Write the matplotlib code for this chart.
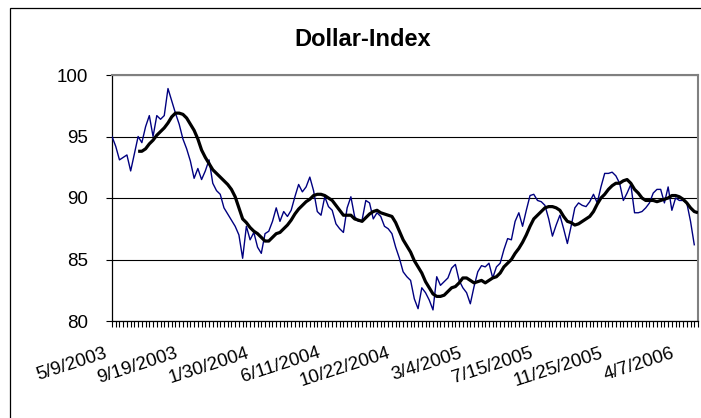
import numpy as np
import matplotlib
matplotlib.use("Agg")
import matplotlib.pyplot as plt
from matplotlib.patches import Rectangle
from matplotlib.transforms import ScaledTranslation

plt.rcParams['font.family'] = ['Liberation Sans', 'DejaVu Sans']

# weekly Dollar-Index values
dollar_index = [
    95.0, 94.2, 93.1, 93.3, 93.5, 92.2, 93.6, 95.0, 94.5, 95.8,
    96.7, 95.0, 96.7, 96.4, 96.7, 98.9, 97.9, 96.9, 96.0, 94.8,
    94.0, 93.0, 91.6, 92.4, 91.5, 92.2, 93.1, 91.2, 90.6, 90.3,
    89.2, 88.7, 88.2, 87.7, 87.0, 85.1, 87.7, 86.6, 87.2, 86.0,
    85.5, 87.1, 87.3, 88.1, 89.2, 88.1, 88.9, 88.5, 89.0, 90.1,
    91.1, 90.5, 90.9, 91.7, 90.6, 88.9, 88.6, 90.1, 89.3, 89.0,
    87.9, 87.5, 87.2, 89.2, 90.1, 88.5, 88.1, 88.2, 89.8, 89.6,
    88.3, 88.8, 88.5, 87.7, 87.5, 87.1, 86.0, 85.1, 84.0, 83.6,
    83.3, 81.8, 81.0, 82.7, 82.3, 81.7, 80.9, 83.6, 82.9, 83.2,
    83.5, 84.3, 84.6, 83.3, 82.7, 82.3, 81.4, 82.8, 84.0, 84.5,
    84.4, 84.7, 83.5, 84.4, 84.7, 85.8, 86.7, 86.6, 88.1, 88.8,
    87.7, 89.0, 90.2, 90.3, 89.8, 89.7, 89.4, 88.3, 86.9, 87.8,
    88.6, 87.5, 86.3, 87.7, 89.2, 89.6, 89.4, 89.3, 89.7, 90.3,
    89.6, 90.9, 92.0, 92.0, 92.1, 91.8, 91.2, 89.8, 90.4, 91.1,
    88.8, 88.8, 88.9, 89.2, 89.6, 90.4, 90.7, 90.7, 89.6, 90.9,
    89.0, 90.0, 89.8, 89.8, 89.6, 88.1, 86.2,
]

# smoothed line, starts at week 7
ma_start = 7
moving_avg = [
    93.8, 93.8, 94.0, 94.4, 94.7, 95.1, 95.4, 95.7, 96.1, 96.6,
    96.9, 96.9, 96.8, 96.5, 96.0, 95.5, 94.8, 93.9, 93.3, 92.8,
    92.3, 92.0, 91.7, 91.4, 91.1, 90.7, 90.1, 89.2, 88.3, 88.0,
    87.6, 87.3, 87.1, 86.8, 86.5, 86.5, 86.8, 87.1, 87.2, 87.5,
    87.8, 88.2, 88.7, 89.1, 89.4, 89.7, 89.9, 90.2, 90.3, 90.3,
    90.2, 90.0, 89.8, 89.4, 89.0, 88.6, 88.6, 88.6, 88.3, 88.2,
    88.1, 88.4, 88.7, 88.9, 89.0, 88.8, 88.7, 88.6, 88.5, 88.0,
    87.3, 86.6, 86.1, 85.6, 84.9, 84.4, 83.9, 83.2, 82.7, 82.2,
    82.0, 82.0, 82.1, 82.4, 82.7, 82.8, 83.1, 83.5, 83.5, 83.3,
    83.1, 83.2, 83.3, 83.1, 83.3, 83.5, 83.6, 83.9, 84.4, 84.7,
    85.0, 85.5, 85.9, 86.4, 87.0, 87.7, 88.3, 88.6, 88.9, 89.2,
    89.3, 89.3, 89.2, 89.0, 88.5, 88.1, 88.0, 87.8, 87.9, 88.1,
    88.3, 88.5, 88.9, 89.5, 90.0, 90.3, 90.7, 91.0, 91.2, 91.2,
    91.4, 91.5, 91.2, 90.7, 90.4, 90.0, 89.8, 89.8, 89.8, 89.7,
    89.8, 89.9, 90.0, 90.2, 90.2, 90.1, 89.9, 89.6, 89.2, 88.9,
    88.8,
]

n_weeks = 158
label_step = 19
date_labels = ['5/9/2003', '9/19/2003', '1/30/2004', '6/11/2004', '10/22/2004',
               '3/4/2005', '7/15/2005', '11/25/2005', '4/7/2006']

fig = plt.figure(figsize=(7.01, 4.18), dpi=100)
ax = fig.add_axes([112 / 701, 1 - 321 / 418, 586 / 701, 246 / 418])

x_blue = np.arange(len(dollar_index))
x_ma = np.arange(ma_start, ma_start + len(moving_avg))
ax.plot(x_blue, dollar_index, color='#000080', lw=1.0, zorder=3)
ax.plot(x_ma, moving_avg, color='black', lw=2.3, zorder=4, solid_capstyle='butt')

ax.set_xlim(0, n_weeks - 1)
ax.set_ylim(80, 100)
ax.set_yticks([80, 85, 90, 95, 100])
ax.yaxis.grid(True, color='black', lw=0.8)
ax.set_axisbelow(True)

ax.set_xticks(np.arange(0, n_weeks, label_step))
ax.set_xticks(np.arange(n_weeks), minor=True)
ax.set_xticklabels(date_labels, rotation=18, ha='right', va='top',
                   rotation_mode='anchor', fontsize=13.5)
ax.tick_params(axis='x', which='both', direction='out', length=4, width=0.8,
               color='black', pad=13)
ax.tick_params(axis='y', direction='out', length=4, width=0.8, labelsize=13.5, pad=13)
shift = ScaledTranslation(-8 / 100, 0, fig.dpi_scale_trans)
for lab in ax.get_xticklabels():
    lab.set_transform(lab.get_transform() + shift)

for side in ['top', 'right']:
    ax.spines[side].set_color('#808080')
    ax.spines[side].set_linewidth(1.5)
for side in ['left', 'bottom']:
    ax.spines[side].set_color('black')
    ax.spines[side].set_linewidth(0.9)

fig.text(363 / 701, 1 - 40 / 418, 'Dollar-Index', ha='center', va='center',
         fontsize=17, fontweight='bold')

# outer chart frame
fig.patches.append(Rectangle((10 / 701, -0.05), 1.0, 1.05 - 8 / 418,
                             transform=fig.transFigure, fill=False,
                             edgecolor='black', lw=0.9))

fig.savefig('out.png', dpi=100, facecolor='white')
